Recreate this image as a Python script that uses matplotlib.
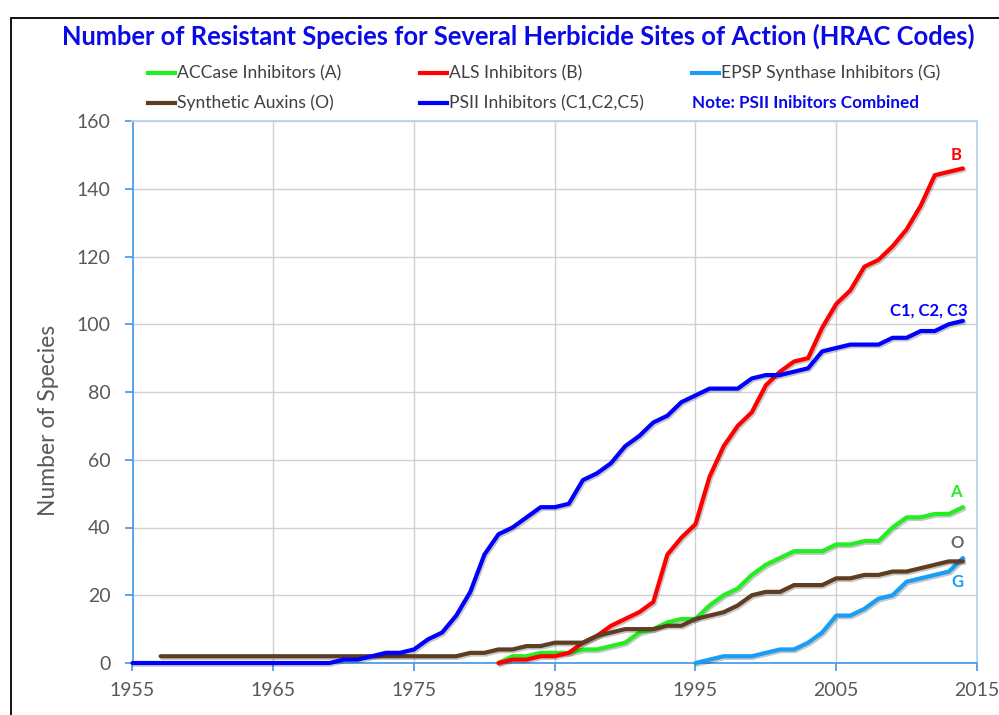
import matplotlib
matplotlib.use('Agg')
import matplotlib.pyplot as plt
import matplotlib.patheffects as pe
from matplotlib.lines import Line2D
from matplotlib.patches import Rectangle

plt.rcParams['font.family'] = ['Lato', 'DejaVu Sans']

# resistant species counts per year
accase_start = 1981
accase = [0, 2, 2, 3, 3, 3, 4, 4, 5, 6, 9, 10, 12, 13, 13, 17, 20, 22, 26, 29,
          31, 33, 33, 33, 35, 35, 36, 36, 40, 43, 43, 44, 44, 46]

als_start = 1981
als = [0, 1, 1, 2, 2, 3, 6, 8, 11, 13, 15, 18, 32, 37, 41, 55, 64, 70, 74, 82,
       86, 89, 90, 99, 106, 110, 117, 119, 123, 128, 135, 144, 145, 146]

epsp_start = 1995
epsp = [0, 1, 2, 2, 2, 3, 4, 4, 6, 9, 14, 14, 16, 19, 20, 24, 25, 26, 27, 31]

auxin_start = 1957
auxin = [2, 2, 2, 2, 2, 2, 2, 2, 2, 2, 2, 2, 2, 2, 2, 2, 2, 2, 2, 2, 2,
         2, 3, 3, 4, 4, 5, 5, 6, 6, 6, 8, 9, 10, 10, 10, 11, 11, 13, 14, 15,
         17, 20, 21, 21, 23, 23, 23, 25, 25, 26, 26, 27, 27, 28, 29, 30, 30]

psii_start = 1955
psii = [0, 0, 0, 0, 0, 0, 0, 0, 0, 0, 0, 0, 0, 0, 0,
        1, 1, 2, 3, 3, 4, 7, 9, 14, 21, 32, 38, 40, 43, 46, 46, 47, 54, 56, 59,
        64, 67, 71, 73, 77, 79, 81, 81, 81, 84, 85, 85, 86, 87, 92, 93, 94, 94,
        94, 96, 96, 98, 98, 100, 101]

series = [
    ('ACCase Inhibitors (A)', accase_start, accase, '#22EE22'),
    ('ALS Inhibitors (B)', als_start, als, '#FF0000'),
    ('EPSP Synthase Inhibitors (G)', epsp_start, epsp, '#1A9EF5'),
    ('Synthetic Auxins (O)', auxin_start, auxin, '#5E3D22'),
    ('PSII Inhibitors (C1,C2,C5)', psii_start, psii, '#0000FF'),
]

end_labels = ['B', 'C1, C2, C3', 'A', 'O', 'G']
end_x = [2013.5, 2011.6, 2013.5, 2013.6, 2013.6]
end_y = [150, 104, 50.5, 35.5, 23.8]
end_colors = ['#FF0000', '#0000FF', '#22EE22', '#666666', '#1A9EF5']

W, H = 999, 715
fig = plt.figure(figsize=(W / 100, H / 100), dpi=100)
fig.patches.append(Rectangle((11 / W, -0.1), 1.2, 1 - 18 / H + 0.1, transform=fig.transFigure,
                             fill=False, ec='black', lw=1.3))

ax = fig.add_axes([132.5 / W, 1 - 663 / H, (977 - 132.5) / W, (663 - 121) / H])

shadow = [pe.SimpleLineShadow(offset=(1, -1.2), alpha=0.22, shadow_color='black'), pe.Normal()]
for label, start, vals, color in series:
    yrs = list(range(start, start + len(vals)))
    ax.plot(yrs, vals, '-', color=color, linewidth=3, solid_joinstyle='round',
            solid_capstyle='round', clip_on=False, zorder=3, path_effects=shadow)

ax.set_xlim(1955, 2015)
ax.set_ylim(0, 160)
ax.set_xticks(range(1955, 2016, 10))
ax.set_yticks(range(0, 161, 20))
ax.grid(True, color='#D0D0D0', linewidth=1)
ax.set_axisbelow(True)

axis_col = '#4E9EE8'
for s in ['left', 'bottom']:
    ax.spines[s].set_color(axis_col)
    ax.spines[s].set_linewidth(1.3)
for s in ['top', 'right']:
    ax.spines[s].set_color('#B4D3F0')
    ax.spines[s].set_linewidth(1.3)
ax.tick_params(direction='out', length=6, width=1.3, color=axis_col,
               labelcolor='#595959', labelsize=14)
ax.tick_params(axis='x', pad=8)
ax.tick_params(axis='y', pad=10)
ax.set_ylabel('Number of Species', fontsize=16.5, color='#595959')
ax.yaxis.set_label_coords(-0.087, 0.448)

for txt, x, y, c in zip(end_labels, end_x, end_y, end_colors):
    ax.text(x, y, txt, color=c, fontsize=12, fontweight='bold', ha='center', va='center')

fig.text(518 / W, 1 - 36 / H,
         'Number of Resistant Species for Several Herbicide Sites of Action (HRAC Codes)',
         ha='center', va='center', fontsize=18.4, fontweight='bold', color='#0A0AE6')

# legend, laid out as in the original (three columns, two rows)
col_x = [148, 420, 692]
row_y = [73, 103]
for i, (label, start, vals, color) in enumerate(series):
    cx = col_x[i % 3]
    ry = row_y[i // 3]
    fig.lines.append(Line2D([cx / W, (cx + 27) / W], [1 - ry / H, 1 - ry / H],
                            transform=fig.transFigure, color=color, linewidth=3))
    fig.text((cx + 29) / W, 1 - ry / H, label, ha='left', va='center',
             fontsize=12.6, color='#404040')
fig.text(col_x[2] / W, 1 - row_y[1] / H, 'Note: PSII Inibitors Combined', ha='left',
         va='center', fontsize=12.3, fontweight='bold', color='#0A0AE6')

fig.savefig('out.png', dpi=100)
